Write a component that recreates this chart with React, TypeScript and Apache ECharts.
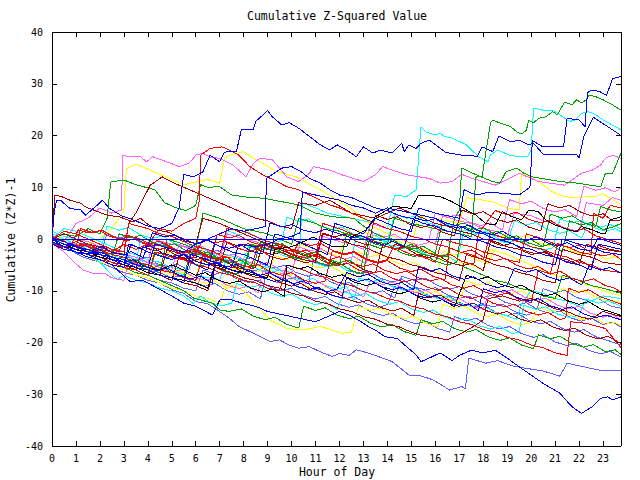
import React, { useEffect, useRef } from "react";
import * as echarts from "echarts";

const BLUE = "#0000ff";
const LBLUE = "#6060ff";
const RED = "#ff0000";
const DRED = "#a80000";
const GREEN = "#00a000";
const CYAN = "#00ffff";
const MAGENTA = "#ff60ff";
const YELLOW = "#ffff00";
const BLACK = "#000000";

const hourLabels = ["0","1","2","3","4","5","6","7","8","9","10","11","12","13","14","15","16","17","18","19","20","21","22","23"];

const lineA = [[0,0],[0.1,5.6],[0.2,7.5],[0.35,7.5],[0.75,5.9],[1.2,5.6],[1.4,4.6],[1.9,6.6],[2.1,7.5],[2.4,5.9],[2.9,4.5],[3.5,3.5],[4,2.5],[4.5,2],[5,3],[5.3,6],[5.5,12.5],[5.9,12],[6.3,13],[6.6,16.2],[7,14.9],[7.2,16.8],[7.7,16.9],[7.9,21.1],[8.4,21.1],[8.5,22.7],[9,24.8],[9.2,23.6],[9.6,22],[9.9,22.5],[10.3,21.4],[11.2,18.2],[11.6,17.2],[11.9,18.2],[12.3,17.2],[12.7,15.9],[13,17.8],[13.4,16.6],[13.7,17.2],[14.2,16.6],[14.6,18.5],[14.7,16.9],[14.9,18.2],[15.2,17.5],[15.4,18.5],[15.75,19.1],[16.45,16.7],[17.1,16.2],[17.75,16],[17.95,17.8],[18.4,16.9],[18.65,19.9],[19.15,18.8],[19.5,19.1],[19.9,18.2],[20.1,18.5],[20.5,16.4],[21.9,16.4],[22,15.6],[22.2,19.8],[22.6,23.5],[23.1,22],[23.75,20]];
const lineB = [[0,0],[0.5,-1.5],[1,-2.5],[1.5,-3],[2,-2],[2.5,-4],[3,-5],[3.3,-1],[4,-2.5],[5,-4],[5.5,-3],[6,-5],[6.5,-6],[6.8,-1],[7.5,-2.5],[8,-3],[8.5,-4],[9,-5],[9.3,1],[10,0],[10.5,-1],[11,-2],[11.5,-3],[11.8,3],[12.5,2],[13,1],[13.5,4],[14,3],[14.5,2],[15,1.5],[15.3,6],[16,5],[16.5,4.5],[17,4],[17.2,9.5],[17.7,8.5],[18.2,9],[19,8.8],[19.5,8.5],[19.95,10],[20.05,19],[20.5,17.8],[21.35,17.8],[21.5,23.3],[22,23],[22.25,21.7],[22.35,28.2],[22.5,28.8],[22.85,28.5],[23.15,27.8],[23.4,31],[23.75,31.4]];
const greenTop = [[0,0],[0.5,-1],[1,-2],[1.5,-1],[2,-3],[2.5,-4],[3,-3.5],[3.5,-5],[4,-6],[4.5,-5],[5,-6.5],[5.5,-7.5],[5.8,-2],[6.5,-3],[7,-4],[7.5,-5],[8,-5.5],[8.3,-1],[9,-2],[9.5,-2.5],[10,-3.5],[10.5,-4],[11,-3],[11.5,-4.5],[12,-5],[12.3,1],[13,0.5],[13.5,-0.5],[14,-1],[14.3,4],[15,3],[15.5,2.5],[16,2],[16.5,1.5],[17,1],[17.5,0.5],[17.7,12],[17.95,12],[18.3,22.4],[18.4,23],[18.7,22.4],[19.15,21.7],[19.4,20.7],[19.6,20.3],[19.8,21],[19.9,23],[20.1,22.4],[20.3,23.3],[20.6,23.6],[20.9,24.6],[21.1,24],[21.2,24.9],[21.4,26.5],[21.7,25.9],[21.9,26.9],[22.1,26.3],[22.3,26.9],[22.4,27.8],[22.7,27.5],[23,26.9],[23.4,25.9],[23.75,24.9]];
const greenHigh = [[0,0],[0.5,-0.5],[1,-1.5],[1.5,-2.5],[2,-2],[2.5,-3.5],[3,-4.5],[3.5,-4],[4,-5.5],[4.5,-6.5],[4.8,0],[5.5,-1],[6,-2],[6.3,5],[7,4],[7.5,3],[8,2],[8.5,1.5],[9,1],[9.5,0],[10,-1],[10.3,4],[11,3],[11.5,2],[12,1.5],[12.5,0.5],[13,0],[13.5,-1],[14,-1.5],[14.5,-2],[15,-1],[15.5,-2.5],[16,-3],[16.5,-3.5],[16.8,4],[17,5.5],[17.1,13.7],[17.9,12],[18.4,11.1],[18.7,10.8],[18.95,13],[19.4,13.7],[19.7,12.7],[20.05,12],[21.2,11.1],[21.9,10.8],[22.9,10.1],[23.1,12.7],[23.4,12.7],[23.75,16.6]];
const greenEarly = [[0,0],[0.5,1],[1,0.5],[1.5,2],[2,1],[2.3,4],[2.45,11],[3,11.4],[3.5,10.5],[4.3,9.5],[4.7,7],[5.2,6],[5.6,5.5],[6,6.5],[6.2,10.5],[6.5,10],[7,10.1],[7.5,8.5],[8.3,8],[8.8,7.9],[9.6,7.2],[10.3,6.6],[11,5],[11.7,4.3],[12.6,4],[13,2.5],[13.5,1],[14,0],[14.5,-1],[15,-2],[15.5,-3],[16,-3.5],[16.5,-4.5],[17,-5],[17.5,-6],[18,-7],[18.5,-8],[19,-8.5],[19.5,-9.5],[20,-10],[20.5,-11],[21,-11.5],[21.3,-7],[22,-8],[22.5,-9],[23,-9.5],[23.75,-10.5]];
const cyanTop = [[0,0],[0.5,2],[1,1.5],[1.5,0.5],[2,-0.5],[2.5,-1.5],[3,-2.5],[3.5,-3],[4,-4],[4.5,-4.5],[5,-5.5],[5.5,-6],[6,-7],[6.5,-7.5],[7,-8],[7.3,-3],[8,-4],[8.5,-5],[9,-5.5],[9.5,-6],[10,-6.5],[10.35,-1],[10.45,7],[11,6],[11.5,5],[12,4.5],[12.5,4],[13,3.5],[13.5,3],[14,2],[14.3,8.5],[14.8,8.2],[15.2,9.5],[15.4,21.6],[15.6,20.7],[15.96,20.1],[16.2,20.4],[16.4,19.8],[16.7,19.5],[17.3,18.2],[17.8,15.9],[18.2,14.9],[18.3,16.2],[18.6,17.2],[19.1,16.2],[19.5,15.9],[19.85,15.9],[20,17.2],[20.1,25.3],[20.5,24.9],[20.9,24.9],[21.2,24],[21.6,22.7],[21.85,23],[22.1,24.3],[22.4,24.6],[22.7,24],[23,23],[23.4,22],[23.75,21.1]];
const magentaTop = [[0,0],[0.5,-0.5],[1,3],[1.5,4],[2,6],[2.5,5],[2.9,5.6],[2.95,16.2],[3.2,15.9],[3.7,15.9],[3.95,14.9],[4.2,15.9],[4.8,14.9],[5.3,14],[5.7,14.6],[5.9,15.6],[6,16.2],[6.3,16.6],[6.6,15.8],[7,15.6],[7.55,14.3],[8.1,12],[8.4,14.6],[8.67,15.6],[9.2,15.3],[9.8,12],[10.3,11.1],[10.75,12.7],[10.9,14],[11.6,13.3],[12.1,12.4],[13,11.1],[13.5,12.4],[13.8,14],[14.2,13.3],[14.8,12.4],[15.75,11.7],[16.2,10.8],[16.7,11.1],[17.1,12.5],[17.55,11.7],[18.5,10.4],[19.2,12],[19.5,12.7],[20.3,11.1],[21.4,10.4],[22.1,12.7],[22.55,13.3],[22.9,14.3],[23.1,15.6],[23.4,16.2],[23.75,15.6]];
const yellowHigh = [[0,0],[0.5,-1],[1,-2],[1.5,-1],[2,0],[2.5,2],[3,5.5],[3.1,13.5],[3.5,14.5],[4,13.5],[4.5,12.5],[5,11.5],[5.5,10.5],[6,11],[6.5,11.5],[7,10.8],[7.2,15.6],[7.4,16.2],[8,16.9],[8.4,15.6],[9.4,13],[10.2,12],[11.2,9.5],[12.4,6.2],[13.4,2.4],[14,1],[14.5,0],[15,-1],[15.5,-2],[16,-3],[16.5,-3.5],[17,-4.5],[17.5,-5],[18,-6],[18.3,-2],[19,-3],[19.5,-4],[20,-5],[20.5,-6],[21,-7],[21.5,-7.5],[22,-8.5],[22.5,-9],[23,-10],[23.75,-11]];
const yellowRight = [[0,0],[0.5,0.5],[1,-0.5],[1.5,-1.5],[2,-2.5],[2.5,-2],[3,-3],[3.5,-4],[4,-4.5],[4.5,-5.5],[5,-6],[5.5,-6.5],[6,-7.5],[6.3,-2],[7,-3],[7.5,-3.5],[8,-4.5],[8.5,-5],[9,-6],[9.5,-6.5],[10,-7],[10.3,-1],[11,-2],[11.5,-2.5],[12,-3.5],[12.3,2],[13,1.5],[13.5,0.5],[14,0],[14.5,-0.5],[15,-1.5],[15.3,4.5],[16,4],[16.5,3.5],[17,3],[17.3,8],[18,7.5],[18.5,7],[19,6],[19.5,5.6],[19.6,12.7],[19.8,12.4],[20.2,11.4],[20.6,10.1],[21,8.8],[21.4,8.2],[21.85,7.9],[22.3,8.2],[22.7,8.2],[22.95,8.8],[23.3,7.9],[23.75,6.6]];
const redRight = [[0,0],[0.5,1.5],[1,1],[1.5,0],[2,-1],[2.5,-2],[3,-2.5],[3.2,3],[4,2],[4.5,1],[5,0.5],[5.5,-0.5],[6,-1.5],[6.5,-2],[7,-3],[7.3,2],[8,1.5],[8.5,0.5],[9,-0.5],[9.5,-1],[10,-2],[10.5,-2.5],[11,-3.5],[11.3,3],[12,2],[12.5,1],[13,0.5],[13.5,-0.5],[14,-1.5],[14.5,-2],[15,-3],[15.5,-3.5],[16,-4.5],[16.3,0],[17,-1],[17.5,-1.5],[18,-2.5],[18.5,-3],[19,-4],[19.5,-4.5],[19.8,1],[20.5,0],[21,-1],[21.5,-1.5],[22,-2.5],[22.5,-3],[22.6,5],[23,4],[23.3,6.5],[23.75,6]];
const blueLowLight = [[0,0],[0.3,-1],[0.9,-2.5],[1.3,-3.5],[2,-4.5],[2.5,-5.5],[3,-6.5],[3.5,-7],[4,-8],[4.5,-8.5],[5.05,-9.9],[5.5,-10.5],[6,-12.1],[6.5,-12.5],[6.9,-13.7],[7.4,-15.3],[7.8,-16.9],[8.4,-18.2],[9.1,-19.8],[9.5,-19.5],[9.9,-20.5],[10.3,-21.1],[10.75,-20.8],[11.2,-21.8],[11.7,-22.7],[12,-22.1],[12.4,-22.5],[12.7,-21.4],[13.25,-22.1],[14.2,-23.7],[14.9,-26.3],[15.3,-26.3],[15.9,-27.2],[16.6,-29.2],[17.1,-28.5],[17.25,-29],[17.4,-23],[18.1,-24],[18.6,-23.5],[19.2,-24.5],[19.8,-25],[20.5,-25.5],[21.2,-26.5],[21.5,-24],[22,-24.5],[22.5,-25],[23,-25.5],[23.75,-25.5]];
const blueBottom = [[0,0],[0.5,-1.5],[1,-2.5],[1.5,-3],[2,-4],[2.5,-5],[3.25,-8.2],[3.8,-8],[4.4,-9.5],[5,-11],[5.5,-12.4],[6,-13],[6.7,-14.7],[7,-11.8],[7.4,-11.6],[8,-12.5],[8.5,-13],[9,-14],[9.5,-14.5],[10,-15],[10.5,-15.5],[11,-16],[11.5,-15],[12,-14],[12.4,-14.7],[12.8,-15.7],[13.2,-16.9],[13.5,-17.6],[13.9,-18.9],[14.4,-19.2],[14.8,-20.8],[15.2,-22.4],[15.4,-23.7],[15.75,-23],[16.2,-22],[16.7,-23.5],[17,-22.5],[17.5,-21.5],[18,-22],[18.5,-21.5],[19,-23],[19.5,-24.7],[20.5,-27.9],[21.2,-29.8],[21.7,-32.4],[22.1,-33.7],[22.55,-32.4],[22.9,-30.8],[23.2,-30.5],[23.4,-31.1],[23.75,-30.5]];
const zeroLine = [[0,0],[23.75,0]];
const blackMid = [[0,0],[0.5,-1],[1,-2],[1.5,-2.5],[2,-3.5],[2.5,-4],[3,-5],[3.5,-5.5],[4,-6.5],[4.5,-7],[5,-7.5],[5.5,-8],[6,-8.5],[6.5,-9.5],[6.8,-5],[7.5,-6],[8,-6.5],[8.5,-7],[9,-7.5],[9.3,-2],[10,-1.5],[10.5,-0.5],[10.9,0.4],[11.7,-1.5],[12.3,-1.5],[12.5,0.4],[13.1,1.7],[13.5,4.3],[14.2,6.2],[14.5,6.2],[15,5.9],[15.3,8.5],[15.6,8.5],[16.2,8.2],[16.7,7.2],[17.3,5.6],[17.7,4.6],[18.1,3],[18.5,2.7],[18.8,5.3],[19.2,4.3],[19.6,3.7],[19.9,5.6],[20.3,5.3],[20.6,3.7],[21,2.7],[21.6,1.7],[21.9,1.4],[22.1,2.4],[22.6,1.7],[22.9,1.1],[23.1,1.1],[23.3,3.7],[23.75,4.3]];
const blackLow = [[0,0],[0.5,-1.5],[1,-2.5],[1.5,-2.8],[2,-3],[2.5,-3.5],[3,-4],[3.5,-5],[4,-5.5],[4.5,-6],[5,-5],[5.5,-6],[6,-7],[6.4,-6.5],[6.9,-7.9],[7.4,-8.6],[7.8,-8.1],[8.3,-9.5],[8.8,-10.2],[9.2,-9.7],[9.7,-11.1],[9.8,-5],[10.3,-5.8],[10.7,-5.3],[11.2,-6.7],[11.7,-7.4],[12.1,-6.9],[12.6,-8.3],[13.1,-9],[13.5,-8.5],[14,-9.9],[14.5,-10.6],[14.9,-10.1],[15.4,-11.5],[15.9,-12.2],[16.3,-11.7],[16.8,-13.1],[17.3,-7],[17.8,-7.8],[18.2,-7.3],[18.7,-8.7],[19.2,-9.4],[19.6,-8.9],[20.1,-10.3],[20.6,-11],[21,-10.5],[21.5,-11.9],[22,-12.6],[22.4,-12.1],[22.9,-13.5],[23.4,-14.2],[23.75,-14.8]];
const dredSpike = [[0,0],[0.12,8.5],[0.4,8.2],[0.75,7.5],[1.2,6.9],[1.4,6.2],[1.9,5.3],[2.3,4.6],[2.8,4.3],[3.4,3.3],[3.7,4],[3.95,3],[4.4,1.7],[4.8,1.4],[5.5,0],[6,-1],[6.3,4],[7,3],[7.5,2],[8,1],[8.5,0],[9,-1],[9.5,-2],[10,-3],[10.5,-4],[11,-4.5],[11.3,1],[12,0],[12.5,-1],[13,-1.5],[13.5,-2.5],[14,-3.5],[14.5,-4],[15,-5],[15.5,-5.5],[16,-6.5],[16.5,-7],[17,-8],[17.3,-3],[18,-4],[18.5,-5],[19,-5.5],[19.5,-6.5],[20,-7],[20.5,-8],[21,-8.5],[21.3,-2],[22,-3],[22.5,-3.5],[23,-4.5],[23.75,-5]];
const blueMid1 = [[0,-0.6],[0.4,-1.2],[0.8,-0.9],[1.2,-1.9],[1.7,-2.2],[2.1,-1.4],[2.5,-2.6],[3,-3.1],[3.3,-2.4],[3.8,-3.6],[4.2,1.2],[4.7,0.4],[5.1,0.8],[5.6,-0.5],[6.1,-0.9],[6.5,-0.2],[7,-1.4],[7.4,-1.8],[7.9,-1.1],[8.3,-2.4],[8.8,-2.9],[9.1,3.1],[9.6,2.3],[10,2.8],[10.5,1.7],[11,1.2],[11.4,1.9],[12,1],[12.5,0.2],[12.9,0.7],[13.4,-0.6],[13.9,-1.2],[14.2,-0.4],[14.7,-1.5],[15.1,4.1],[15.6,3.5],[16,3.9],[16.5,2.6],[17,2.1],[17.4,2.7],[17.9,1.4],[18.4,0.8],[18.8,1.5],[19.3,0.2],[19.8,-0.3],[20.2,0.4],[20.7,-0.8],[21.1,-1.4],[21.5,-0.7],[22,-1.9],[22.5,-2.3],[22.8,0.2],[23.3,-0.6],[23.75,-1.2]];
const lblueMid1 = [[0,0.4],[0.4,-0.3],[0.9,-1.2],[1.3,-0.8],[1.8,-2],[2.2,-2.7],[2.6,-2.1],[3.1,-3.4],[3.5,-4],[4,-3.5],[4.4,-4.8],[4.9,-5.5],[5.2,-4.8],[5.7,-6],[6,-1.9],[6.5,-2.7],[6.9,-2.2],[7.4,-3.5],[7.9,-4.1],[8.3,-3.6],[8.8,-4.9],[9.3,-5.6],[9.7,-5.1],[10.2,-6.5],[10.7,-7.2],[11.1,-6.7],[11.6,-8.2],[12,-9],[12.4,-8.4],[12.9,-9.8],[13.4,-10.5],[13.8,-10],[14.3,-11.4],[14.6,-7.2],[15.1,-8],[15.6,-7.6],[16.1,-9],[16.6,-9.7],[17,-9.2],[17.5,-10.6],[18,-11.3],[18.4,-10.8],[18.9,-12.2],[19.4,-12.9],[19.8,-12.3],[20.3,-13.7],[20.8,-14.4],[21.2,-13.9],[21.7,-15.3],[22.1,-15.9],[22.5,-15.3],[23,-16.5],[23.4,-16.1],[23.75,-17]];
const redMid1 = [[0,-0.9],[0.4,-1.6],[0.8,-1.2],[1.1,1.8],[1.5,1.2],[2,1.6],[2.4,0.5],[2.9,0],[3.3,0.6],[3.8,-0.7],[4.3,-1.3],[4.7,-0.8],[5.2,-2.1],[5.7,-2.7],[6.1,-2.2],[6.6,-3.5],[6.9,0.9],[7.4,0.2],[7.8,0.7],[8.3,-0.6],[8.8,-1.2],[9.2,-0.7],[9.7,-2],[10.2,-2.6],[10.6,-2.1],[11.1,-3.4],[11.6,-4],[12,-3.4],[12.5,-4.7],[13,-5.3],[13.4,-4.8],[13.9,-6.1],[14.4,-6.7],[14.8,-6.2],[15.3,-7.5],[15.8,-8.1],[16.2,-7.6],[16.7,-8.9],[17.2,-9.5],[17.6,-9],[18.1,-10.3],[18.6,-10.9],[19,-10.4],[19.5,-11.7],[20,-12.3],[20.3,-6],[20.8,-6.8],[21.2,-6.2],[21.7,-7.6],[22.2,-8.2],[22.6,-7.7],[23.1,-9],[23.5,-9.5],[23.75,-10.4]];
const redJump = [[0,0.5],[0.4,-0.2],[0.9,-1.4],[1.3,-1],[1.8,-2.3],[2.3,-2.9],[2.8,-2.4],[3.1,0.8],[3.6,0.1],[4.1,-0.9],[4.5,-0.4],[5,-1.8],[5.5,-2.5],[5.9,-2],[6.4,-3.4],[6.9,-4],[7.3,-3.5],[7.8,-4.9],[8.3,-5.6],[8.6,-1.2],[9.1,-2],[9.5,-1.5],[10,-2.9],[10.5,-3.6],[10.9,-3.1],[11.4,-4.5],[11.9,-5.2],[12.3,-4.6],[12.8,-6],[13.3,-6.7],[13.7,-6.2],[14.2,-7.6],[14.7,-8.3],[15.1,-7.8],[15.6,-9.2],[16.1,-9.9],[16.5,-9.4],[17,-10.8],[17.5,-11.5],[17.9,-11],[18.4,-12.4],[18.9,-13.1],[19.3,-12.6],[19.8,-14],[20.3,-14.7],[20.7,-14.2],[21.2,-15.6],[21.45,-15.2],[21.55,-9.5],[22,-10.3],[22.4,-9.8],[22.9,-11.2],[23.3,-11.8],[23.75,-12.6]];
const yellowLow = [[0,-0.5],[0.5,-1.5],[1,-2.5],[1.5,-3.5],[2,-4.5],[2.5,-5],[3,-6],[3.5,-7],[4,-7.5],[4.5,-8.5],[5,-9.5],[5.5,-10],[6,-11],[6.5,-11.5],[7,-12.5],[7.3,-8.5],[8,-10],[8.5,-12.5],[9.1,-15.7],[9.8,-17.3],[10.5,-17.6],[11.2,-16.9],[11.7,-17.6],[12.1,-18.2],[12.5,-18],[12.8,-13],[13.3,-13.8],[13.7,-13.3],[14.2,-14.7],[14.7,-15.4],[15.1,-14.9],[15.6,-16.3],[16.1,-17],[16.3,-12.6],[16.8,-13.4],[17.2,-12.9],[17.7,-14.3],[18.2,-15],[18.6,-14.5],[19.1,-15.9],[19.6,-16.6],[20,-16.1],[20.3,-13.2],[20.8,-14],[21.2,-13.5],[21.7,-14.9],[22.2,-15.6],[22.6,-15.1],[23.1,-16.5],[23.5,-16.1],[23.75,-16.8]];
const magentaLow = [[0,-0.8],[0.5,-2.5],[0.9,-4.4],[1.3,-6],[1.7,-6.6],[2.2,-6.6],[2.5,-7.5],[3,-8],[3.2,-4.2],[3.6,-4.9],[4.1,-4.5],[4.6,-5.8],[5,-6.4],[5.4,-5.9],[5.9,-7.3],[6.4,-8],[6.8,-7.5],[7.3,-8.9],[7.8,-9.6],[8.2,-9.1],[8.6,-10.4],[8.8,-6.2],[9.3,-7],[9.7,-6.6],[10.2,-8],[10.7,-8.7],[11.1,-8.2],[11.6,-9.6],[12.1,-10.3],[12.5,-9.8],[13,-11.2],[13.3,-8],[13.8,-8.8],[14.2,-8.3],[14.7,-9.7],[15.2,-10.4],[15.6,-9.9],[16.1,-11.3],[16.6,-12],[17,-11.5],[17.5,-12.9],[18,-13.6],[18.3,-9.5],[18.8,-10.3],[19.2,-9.8],[19.7,-11.2],[20.2,-11.9],[20.6,-11.4],[21.1,-12.8],[21.6,-13.5],[22,-13],[22.5,-14.4],[23,-15.1],[23.4,-14.6],[23.75,-15.6]];
const cyanLow = [[0,0.3],[0.5,-1],[1,-2],[1.5,-3],[2,-4.5],[2.7,-7.9],[3,-7],[3.5,-8],[4,-8.5],[4.5,-9.5],[5,-10],[5.5,-11],[5.9,-12.5],[6.2,-11],[6.6,-12.3],[7.1,-12.9],[7.5,-12.4],[7.7,-8.6],[8.2,-9.4],[8.6,-9],[9.1,-10.4],[9.6,-11.1],[10,-10.6],[10.5,-12],[11,-12.7],[11.4,-12.2],[11.9,-13.6],[12.2,-10.2],[12.7,-11],[13.1,-10.5],[13.6,-11.9],[14.1,-12.6],[14.5,-12.1],[15,-13.5],[15.5,-14.2],[15.9,-13.7],[16.4,-15.1],[16.9,-15.8],[17.3,-15.3],[17.8,-16.7],[18.3,-17.4],[18.7,-16.9],[19.2,-18.3],[19.5,-18],[19.7,-12.8],[20.2,-13.6],[20.6,-13.1],[21.1,-14.5],[21.6,-15.2],[22,-14.7],[22.3,-11.6],[22.8,-12.4],[23.2,-11.9],[23.75,-13]];
const cyanMid = [[0,1],[0.5,0],[1,-1],[1.5,-1.5],[2,-2.5],[2.5,-3],[3,-4],[3.5,-4.5],[3.7,-0.2],[4.2,-1],[4.6,-0.6],[5.1,-2],[5.6,-2.7],[6,-2.2],[6.5,-3.6],[7,-4.3],[7.4,-3.8],[7.9,-5.2],[8.2,-1.4],[8.7,-2.2],[9.1,-1.7],[9.6,-3.1],[10.1,-3.8],[10.5,-3.3],[11,-4.7],[11.5,-5.4],[11.9,-4.9],[12.4,-6.3],[12.7,0.5],[13.2,-0.3],[13.6,0.2],[14.1,-1.2],[14.6,-1.9],[15,-1.4],[15.5,-2.8],[16,-3.5],[16.4,-3],[16.9,-4.4],[17.2,1.8],[17.7,1],[18.1,1.5],[18.6,0.1],[19.1,-0.6],[19.5,-0.1],[20,-1.5],[20.5,-2.2],[20.9,-1.7],[21.2,3.9],[21.7,3.1],[22.1,3.6],[22.6,2.2],[23.1,1.5],[23.5,2],[23.75,1.4]];
const dredLow = [[0,0],[0.5,-1],[1,-2],[1.5,-2.5],[2,-3.5],[2.5,-4],[3,-5],[3.5,-5.5],[4,-6.5],[4.5,-7],[5,-8],[5.3,-3.5],[5.8,-4.3],[6.2,-3.8],[6.7,-5.2],[7.2,-5.9],[7.6,-5.4],[8.1,-6.8],[8.6,-7.5],[9,-7],[9.5,-8.4],[10,-9.1],[10.4,-8.6],[10.9,-10],[11.4,-10.7],[11.8,-10.2],[12.3,-11.6],[12.8,-12.3],[13.2,-11.8],[13.7,-13.2],[14.2,-13.9],[14.6,-13.4],[15.1,-14.8],[15.3,-10.5],[15.8,-11.3],[16.2,-10.8],[16.7,-12.2],[17.2,-12.9],[17.6,-12.4],[18.1,-13.8],[18.6,-14.5],[19,-14],[19.5,-15.4],[20,-16.1],[20.4,-15.6],[20.9,-17],[21.4,-17.7],[21.8,-17.2],[22.3,-18.6],[22.8,-19.3],[23.2,-18.8],[23.75,-20.2]];
const redLow = [[0,-0.5],[0.5,-1.5],[1,-2.5],[1.5,-3],[2,-4],[2.5,-4.5],[3,-5.5],[3.5,-6],[4,-7],[4.3,-2.5],[5,-3.5],[5.5,-4],[6,-5],[6.5,-5.5],[7,-6.5],[7.5,-7],[8,-8],[8.5,-8.5],[9,-9.5],[9.5,-10],[9.8,-5],[10.5,-6],[11,-7],[11.5,-7.5],[12,-8.5],[12.5,-9],[13,-10],[13.5,-10.5],[14,-11.5],[14.5,-12],[15,-13],[15.5,-13.5],[16,-14.5],[16.5,-15],[17,-16],[17.5,-16.5],[18,-17.5],[18.5,-18],[19,-19],[19.5,-19.5],[20,-20.5],[20.5,-21],[21,-22],[21.5,-22.5],[21.65,-16],[22.3,-16.3],[23.1,-17.3],[23.75,-21]];
const dredJump = [[0,0.5],[0.5,-0.5],[1,-1.5],[1.5,-2.5],[2,-3],[2.5,-4],[3,-4.5],[3.5,-5.5],[4,-6],[4.5,-7],[5,-7.5],[5.5,-8.5],[6,-9],[6.5,-10],[6.8,-5.5],[7.5,-6.5],[8,-7.5],[8.5,-8],[9,-9],[9.5,-9.5],[10,-10.5],[10.5,-11],[11,-12],[11.5,-12.5],[12,-13.5],[12.5,-14],[13,-15],[13.5,-15.5],[14,-16.5],[14.5,-17],[15,-18],[15.3,-18.5],[16,-19],[16.5,-19.5],[17.1,-18.2],[17.7,-16.6],[18,-15.6],[18.2,-11.5],[18.8,-11],[19.5,-12],[20,-11.5],[20.5,-12.5],[21,-13.5],[21.5,-14],[22,-15],[22.5,-15.5],[23,-14],[23.75,-15]];
const redHigh = [[0,0.5],[0.5,-0.5],[1,-1.5],[1.5,-1],[2,-2],[2.5,-2.5],[3,-1],[3.5,-2],[4,-1],[4.5,2],[5,1.5],[5.5,3],[6,4],[6.15,7.5],[6.2,16.2],[6.6,17.5],[7.1,17.8],[7.4,17.2],[7.8,16.2],[8.25,14],[8.8,12.4],[9.4,11.1],[9.8,10.1],[10.3,9.5],[11.2,7.5],[11.6,6.6],[12,6],[12.5,5],[13,4],[13.5,3],[14,2],[14.5,1.5],[15,0.5],[15.5,0],[16,-1],[16.5,-1.5],[17,-2.5],[17.5,-3],[18,-4],[18.3,1],[19,0],[19.5,-0.5],[20,-1.5],[20.5,-2],[21,-3],[21.5,-3.5],[22,-4.5],[22.5,-5],[23,-6],[23.75,-6.5]];
const dredHigh = [[0,0],[0.5,1],[1,0],[1.5,-1],[2,-1.5],[2.5,-2.5],[3,-3],[3.2,3],[3.5,5],[4.1,10.4],[4.6,12],[5,11],[5.5,10],[6,9],[6.5,8],[7,7],[7.5,6],[8,5],[8.5,4],[9,3.5],[9.5,2.5],[10,2],[10.3,7],[11,6.5],[11.6,7.5],[12.5,5],[13,4.5],[13.5,4],[14,5],[14.5,6],[15,5],[15.5,4],[16,3],[16.5,2.5],[17,1.5],[17.5,1],[18,0],[18.5,-0.5],[19,-1.5],[19.5,-2],[20,-3],[20.5,-2.5],[21,-3.5],[21.5,-4],[22,-5],[22.3,-1],[23,-2],[23.75,-2.5]];
const blueUp1 = [[0,-0.5],[0.5,-1.5],[1,-2],[1.5,-3],[2,-2.5],[2.5,-3.5],[3,-4],[3.5,-5],[4,-5.5],[4.3,-1],[5,-2],[5.5,-2.5],[6,-1],[6.5,0],[7,1],[7.5,2],[8,1.5],[8.5,2],[8.9,2.4],[8.95,11.7],[9.6,13.7],[10,14],[10.4,13],[10.75,11.7],[11.2,10.8],[11.6,9.5],[12,8.5],[12.5,8],[13,7],[13.5,6],[14,5.5],[14.5,4.5],[15,4],[15.5,3],[16,2.5],[16.5,1.5],[17,1],[17.5,0],[18,-0.5],[18.5,-1.5],[19,-2],[19.5,-3],[20,-3.5],[20.5,-4.5],[21,-5],[21.3,0],[22,-1],[22.5,-1.5],[23,-2.5],[23.75,-3]];
const blueUp2 = [[0,0],[0.5,-1],[1,-1.5],[1.5,-2.5],[2,-3],[2.5,-4],[3,-4.5],[3.5,-5.5],[4,-6],[4.5,-7],[5,-7.5],[5.5,-8.5],[5.8,-3],[6.5,-4],[7,-5],[7.5,-5.5],[7.8,-1],[8.5,-1.5],[9,-1],[9.5,0],[10,0.5],[10.35,1.2],[10.45,9.1],[11,8.5],[11.5,8],[12,7.5],[12.5,6.5],[13,6],[13.5,5],[14,6],[14.5,5.5],[15,5],[15.5,4.5],[16,4],[16.5,3],[17,2.5],[17.5,1.5],[18,1],[18.5,0],[19,-0.5],[19.5,-1.5],[20,-2],[20.5,-3],[21,-3.5],[21.5,-4.5],[22,-5],[22.5,-6],[22.8,-1],[23.3,-1.5],[23.75,-2]];
const greenMid1 = [[0,-0.8],[0.5,-1.5],[1,-2.5],[1.5,-3.5],[2,-4],[2.5,-5],[3,-5.5],[3.5,-6.5],[4,-7],[4.3,-2.8],[4.8,-3.6],[5.2,-3.1],[5.7,-4.5],[6.2,-5.2],[6.6,-4.7],[7.1,-6.1],[7.6,-6.8],[8,-6.3],[8.3,-1.2],[8.8,-2],[9.2,-1.5],[9.7,-2.9],[10.2,-3.6],[10.6,-3.1],[11.1,-4.5],[11.6,-5.2],[12,-4.7],[12.5,-6.1],[13,-6.8],[13.2,-1],[13.7,-1.8],[14.1,-1.3],[14.6,-2.7],[15.1,-3.4],[15.5,-2.9],[16,-4.3],[16.5,-5],[16.9,-4.5],[17.1,2.5],[17.6,1.7],[18,2.2],[18.5,0.8],[19,0.1],[19.4,0.6],[19.9,-0.8],[20.4,-1.5],[20.8,-1],[21.3,-2.4],[21.6,3.5],[22.1,2.7],[22.5,3.2],[23,1.8],[23.4,2.3],[23.75,3]];
const greenLow = [[0,-0.5],[0.5,-1.5],[1,-2],[1.5,-3],[2,-4],[2.5,-4.5],[3,-5.5],[3.5,-6],[4,-7],[4.5,-8],[5,-9],[5.5,-10],[5.9,-11.4],[6.7,-12.4],[7,-13.7],[7.4,-14],[7.9,-13.5],[8.4,-14.9],[8.9,-15.6],[9.3,-15.1],[9.8,-16.5],[10.3,-17.2],[10.5,-13],[11,-13.8],[11.4,-13.3],[11.9,-14.7],[12.4,-15.4],[12.8,-14.9],[13.3,-16.3],[13.8,-17],[14.2,-16.5],[14.7,-17.9],[15.2,-18.6],[15.4,-15.6],[15.9,-16.4],[16.3,-15.9],[16.8,-17.3],[17.3,-18],[17.7,-17.5],[18.2,-18.9],[18.7,-19.6],[19.1,-19.1],[19.6,-20.5],[20.1,-21.2],[20.3,-18.5],[20.8,-19.3],[21.2,-18.8],[21.7,-20.2],[22.2,-20.9],[22.6,-20.4],[23.1,-21.8],[23.5,-21.4],[23.75,-22.3]];
const lblueMid2 = [[0,0],[0.5,-1],[1,-1.5],[1.5,-2.5],[2,-3],[2.3,1],[2.8,0.2],[3.2,0.7],[3.7,-0.7],[4.2,-1.4],[4.6,-0.9],[5.1,-2.3],[5.6,-3],[6,-2.5],[6.5,-3.9],[7,-4.6],[7.4,-4.1],[7.9,-5.5],[8.4,-6.2],[8.8,-5.7],[9.3,-7.1],[9.8,-7.8],[10.2,-7.3],[10.7,-8.7],[10.9,-4.3],[11.4,-5.1],[11.8,-4.6],[12.3,-6],[12.8,-6.7],[13.2,-6.2],[13.7,-7.6],[14.2,-8.3],[14.6,-7.8],[15.1,-9.2],[15.6,-9.9],[16,-9.4],[16.5,-10.8],[17,-11.5],[17.4,-11],[17.9,-12.4],[18.4,-13.1],[18.8,-12.6],[19.3,-14],[19.8,-14.7],[20.2,-14.2],[20.5,-9.6],[21,-10.4],[21.4,-9.9],[21.9,-11.3],[22.4,-12],[22.8,-11.5],[23.3,-12.9],[23.75,-13.4]];
const lblueLow2 = [[0,0.5],[0.5,-0.5],[1,-1.5],[1.5,-2],[2,-3],[2.5,-3.5],[3,-4.5],[3.5,-5],[4,-6],[4.5,-6.5],[5,-7.5],[5.4,-7],[5.9,-8.4],[6.4,-9.1],[6.8,-8.6],[7.3,-10],[7.8,-10.7],[8.2,-10.2],[8.7,-11.6],[8.9,-7.6],[9.4,-8.4],[9.8,-7.9],[10.3,-9.3],[10.8,-10],[11.2,-9.5],[11.7,-10.9],[12.2,-11.6],[12.6,-11.1],[13.1,-12.5],[13.6,-13.2],[14,-12.7],[14.3,-9.2],[14.8,-10],[15.2,-9.5],[15.7,-10.9],[16.2,-11.6],[16.6,-11.1],[17.1,-12.5],[17.6,-13.2],[18,-12.7],[18.5,-14.1],[19,-14.8],[19.4,-14.3],[19.9,-15.7],[20.4,-16.4],[20.8,-15.9],[21.3,-17.3],[21.8,-18],[22.2,-17.5],[22.7,-18.9],[23.2,-19.6],[23.75,-20.5]];
const blueMid2 = [[0,-1],[0.5,-2],[1,-2.5],[1.5,-3.5],[2,-4],[2.5,-5],[3,-5.5],[3.2,-1],[3.7,-1.8],[4.1,-1.3],[4.6,-2.7],[5.1,-3.4],[5.5,-2.9],[6,-4.3],[6.5,-5],[6.9,-4.5],[7.4,-5.9],[7.9,-6.6],[8.3,-6.1],[8.8,-7.5],[9.3,-8.2],[9.7,-7.7],[10.2,-9.1],[10.7,-9.8],[11.1,-9.3],[11.6,-10.7],[12.1,-11.4],[12.3,-7.4],[12.8,-8.2],[13.2,-7.7],[13.7,-9.1],[14.2,-9.8],[14.6,-9.3],[15.1,-10.7],[15.6,-11.4],[16,-10.9],[16.5,-12.3],[17,-13],[17.4,-12.5],[17.8,-13.9],[18,-9.6],[18.5,-10.4],[18.9,-9.9],[19.4,-11.3],[19.9,-12],[20.3,-11.5],[20.8,-12.9],[21.3,-13.6],[21.7,-13.1],[22.2,-14.5],[22.7,-15.2],[23.1,-14.7],[23.75,-15.6]];
const yellowMid1 = [[0,0],[0.5,-1],[1,-1.5],[1.5,-2.5],[2,-3],[2.5,-4],[3,-4.5],[3.5,-5.5],[4,-6],[4.3,-2],[4.8,-2.8],[5.2,-2.3],[5.7,-3.7],[6.2,-4.4],[6.6,-3.9],[7.1,-5.3],[7.6,-6],[8,-5.5],[8.5,-6.9],[9,-7.6],[9.3,-3.2],[9.8,-4],[10.2,-3.5],[10.7,-4.9],[11.2,-5.6],[11.6,-5.1],[12.1,-6.5],[12.6,-7.2],[12.8,-2.6],[13.3,-3.4],[13.7,-2.9],[14.2,-4.3],[14.7,-5],[15.1,-4.5],[15.6,-5.9],[16.1,-6.6],[16.3,-2.3],[16.8,-3.1],[17.2,-2.6],[17.7,-4],[18.2,-4.7],[18.5,-1.8],[18.9,1],[19.4,0.2],[19.8,0.7],[20.3,-0.7],[20.8,-1.4],[21.2,-0.9],[21.7,-2.3],[22.2,-3],[22.6,-2.5],[23.1,-3.9],[23.5,-3.4],[23.75,-4]];
const yellowMid2 = [[0,0.5],[0.5,0],[1,-1],[1.5,-1.5],[2,-2.5],[2.5,-3],[3,-4],[3.5,-4.5],[4,-5.5],[4.5,-6],[5,-7],[5.4,-6.5],[5.9,-7.9],[6.4,-8.6],[6.8,-8.1],[7.3,-9.5],[7.7,-9.2],[7.8,-5.8],[8.3,-6.6],[8.7,-6.1],[9.2,-7.5],[9.7,-8.2],[10.1,-7.7],[10.6,-9.1],[11.1,-9.8],[11.5,-9.3],[12,-10.7],[12.3,-6.6],[12.8,-7.4],[13.2,-6.9],[13.7,-8.3],[14.2,-9],[14.6,-8.5],[15.1,-9.9],[15.6,-10.6],[16,-10.1],[16.5,-11.5],[17,-12.2],[17.3,-8.1],[17.8,-8.9],[18.2,-8.4],[18.7,-9.8],[19.2,-10.5],[19.6,-10],[20.1,-11.4],[20.6,-12.1],[21,-11.6],[21.3,-9.6],[21.8,-10.4],[22.2,-9.9],[22.7,-11.3],[23.2,-12],[23.75,-12.2]];
const magentaMid1 = [[0,0],[0.5,1],[1,0],[1.5,-0.5],[2,-1.5],[2.5,-2],[3,-3],[3.5,-3.5],[4,-4.5],[4.5,-5],[5,-6],[5.3,-1],[5.8,-1.8],[6.2,-1.3],[6.7,-2.7],[7.2,-3.4],[7.6,-2.9],[8.1,-4.3],[8.6,-5],[9,-4.5],[9.5,-5.9],[10,-6.6],[10.3,-1.5],[10.8,-2.3],[11.2,-1.8],[11.7,-3.2],[12.2,-3.9],[12.6,-3.4],[13.1,-4.8],[13.4,1.2],[13.9,0.4],[14.3,0.9],[14.8,-0.5],[15.3,-1.2],[15.7,-0.7],[16,5],[16.5,4.2],[16.9,4.7],[17.4,3.3],[17.9,2.6],[18.3,3.1],[18.8,1.7],[19.1,7.6],[19.6,6.8],[20,7.3],[20.5,5.9],[21,5.2],[21.4,5.7],[21.9,4.3],[22.2,10.2],[22.7,9.4],[23.1,9.9],[23.5,9.1],[23.75,9.9]];
const magentaMid2 = [[0,0.5],[0.5,-0.5],[1,-1],[1.5,-2],[2,-2.5],[2.5,-3.5],[3,-4],[3.5,-5],[4,-5.5],[4.2,0],[5,-1],[5.5,-1.5],[6,-2.5],[6.5,-3],[7,-4],[7.3,1],[8,0],[8.5,-0.5],[9,-1.5],[9.5,-2],[10,-3],[10.5,-3.5],[11,-4.5],[11.3,0.5],[12,-0.5],[12.5,-1],[13,-2],[13.3,3],[14,2],[14.5,1.5],[15,0.5],[15.5,0],[16,-1],[16.3,4.5],[17,3.5],[17.5,3],[18,2],[18.5,1.5],[19,0.5],[19.3,5],[20,4.5],[20.5,3.5],[21,3],[21.5,2],[22,1.5],[22.3,7],[23,6.5],[23.4,8],[23.75,7.5]];
const dredMid1 = [[0,-0.5],[0.5,-1.5],[1,-2],[1.5,-3],[2,-3.5],[2.5,-4.5],[3,-5],[3.5,-6],[3.8,-1.5],[4.3,-2.3],[4.7,-1.8],[5.2,-3.2],[5.7,-3.9],[6.1,-3.4],[6.6,-4.8],[7,-5.2],[7.3,-0.6],[7.8,-1.4],[8.2,-0.9],[8.7,-2.3],[9.2,-3],[9.6,-2.5],[10.1,-3.9],[10.6,-4.6],[11,-4.1],[11.3,1.2],[11.8,0.4],[12.2,0.9],[12.7,-0.5],[13.2,-1.2],[13.5,4.6],[14,3.8],[14.4,4.3],[14.9,2.9],[15.4,2.2],[15.8,2.7],[16.3,1.3],[16.8,0.6],[17.1,5.6],[17.6,4.8],[18,5.3],[18.5,3.9],[19,3.2],[19.4,3.7],[19.9,2.3],[20.4,1.6],[20.7,6.8],[21.2,6],[21.6,6.5],[22.1,5.1],[22.6,4.4],[23,4.9],[23.4,3.5],[23.75,3.7]];
const redMid2 = [[0,-1],[0.5,-1.5],[1,-0.5],[1.5,-1.5],[2,-2],[2.5,-3],[3,-3.5],[3.5,-4.5],[4,-5],[4.5,-6],[5,-6.5],[5.5,-7.5],[6,-8],[6.3,-3],[6.8,-3.8],[7.2,-3.3],[7.7,-4.7],[8.2,-5.4],[8.6,-4.9],[9.1,-6.3],[9.6,-7],[10,-6.5],[10.5,-7.9],[11,-8.6],[11.4,-8.1],[11.7,-2.3],[12.2,-3.1],[12.6,-2.6],[13.1,-4],[13.6,-4.7],[14,-4.2],[14.5,-5.6],[15,-6.3],[15.4,-5.8],[15.9,-7.2],[16.4,-7.9],[16.6,-1.8],[17.1,-2.6],[17.5,-2.1],[18,-3.5],[18.5,-4.2],[18.9,-3.7],[19.4,-5.1],[19.9,-5.8],[20.3,-5.3],[20.8,-6.7],[21.1,-0.9],[21.6,-1.7],[22,-1.2],[22.5,-2.6],[23,-3.3],[23.4,-2.8],[23.75,-4]];
const blueMid3 = [[0,0.2],[0.5,-0.5],[1,-1.5],[1.5,-2],[2,-3],[2.5,-3.5],[3,-4.5],[3.4,-4],[3.9,-5.4],[4.4,-6.1],[4.8,-5.6],[5.3,-7],[5.8,-7.7],[6.2,-7.2],[6.7,-8.6],[6.8,-4.6],[7.3,-5.4],[7.7,-4.9],[8.2,-6.3],[8.7,-7],[9.1,-6.5],[9.6,-7.9],[10.1,-8.6],[10.5,-8.1],[11,-9.5],[11.5,-10.2],[11.9,-9.7],[12.3,-6.5],[12.8,-7.3],[13.2,-6.8],[13.7,-8.2],[14.2,-8.9],[14.6,-8.4],[15.1,-9.8],[15.3,-5.4],[15.8,-6.2],[16.2,-5.7],[16.7,-7.1],[17.2,-7.8],[17.6,-7.3],[18.1,-8.7],[18.6,-9.4],[19,-8.9],[19.3,-5.6],[19.8,-6.4],[20.2,-5.9],[20.7,-7.3],[21.2,-8],[21.6,-7.5],[22.1,-8.9],[22.4,-5.2],[22.9,-6],[23.3,-5.5],[23.75,-6.6]];
const greenMid2 = [[0,0],[0.5,-0.5],[1,-1.5],[1.5,-2],[2,-3],[2.5,-3.5],[2.8,1],[3.3,0.2],[3.7,0.7],[4.2,-0.7],[4.7,-1.4],[5.1,-0.9],[5.6,-2.3],[6.1,-3],[6.5,-2.5],[7,-3.9],[7.5,-4.6],[7.9,-4.1],[8.4,-5.5],[8.7,-0.6],[9.2,-1.4],[9.6,-0.9],[10.1,-2.3],[10.6,-3],[11,-2.5],[11.5,-3.9],[12,-4.6],[12.4,-4.1],[12.9,-5.5],[13.2,0.5],[13.7,-0.3],[14.1,0.2],[14.6,-1.2],[15.1,-1.9],[15.5,-1.4],[16,-2.8],[16.3,3.4],[16.8,2.6],[17.2,3.1],[17.7,1.7],[18.2,1],[18.6,1.5],[19.1,0.1],[19.6,-0.6],[20,-0.1],[20.5,-1.5],[20.8,4.8],[21.3,4],[21.7,4.5],[22.2,3.1],[22.7,2.4],[22.9,6.3],[23.4,5.5],[23.75,5.3]];
const cyanJump = [[0,1.5],[0.5,0.5],[1,0],[1.5,-1],[2,-1.5],[2.5,-2.5],[3,-3],[3.5,-4],[4,-4.5],[4.5,-5.5],[5,-6],[5.5,-7],[5.8,-2.5],[6.3,-3.3],[6.7,-2.8],[7.2,-4.2],[7.7,-4.9],[8.1,-4.4],[8.6,-5.8],[9.1,-6.5],[9.5,-6],[10,-7.4],[10.5,-8.1],[10.9,-7.6],[11.4,-9],[11.9,-9.7],[12.3,-9.2],[12.6,-12],[12.8,-7.5],[13.3,-8.3],[13.7,-7.8],[14.2,-9.2],[14.7,-9.9],[15.1,-9.4],[15.6,-10.8],[16.1,-11.5],[16.5,-11],[17,-12.4],[17.5,-13.1],[17.9,-12.6],[18.4,-14],[18.9,-14.7],[19.4,-15.5],[19.6,-12.5],[20,-10],[20.5,-10.5],[21,-11.5],[21.5,-12],[22,-13],[22.5,-12],[23,-11],[23.75,-11.5]];
const lblueLow3 = [[0,-0.5],[0.5,-1.5],[1,-2.5],[1.5,-3],[2,-4],[2.5,-4.5],[3,-5.5],[3.5,-6.5],[4,-7],[4.5,-8],[5,-8.5],[5.5,-9.5],[6,-10],[6.3,-6],[6.8,-6.8],[7.2,-6.3],[7.7,-7.7],[8.2,-8.4],[8.6,-7.9],[9.1,-9.3],[9.6,-10],[10,-9.5],[10.5,-10.9],[11,-11.6],[11.4,-11.1],[11.9,-12.5],[12.4,-13.2],[12.8,-12.7],[13.3,-14.1],[13.8,-14.8],[14.2,-14.3],[14.7,-15.7],[15.2,-16.4],[15.6,-15.9],[16.1,-17.3],[16.6,-18],[16.8,-15],[17.3,-15.8],[17.7,-15.3],[18.2,-16.7],[18.7,-17.4],[19.1,-16.9],[19.6,-18.3],[20.1,-19],[20.5,-18.5],[21,-19.9],[21.5,-20.6],[21.9,-20.1],[22.4,-21.5],[22.9,-22.2],[23.3,-21.7],[23.75,-22.8]];
const redMid3 = [[0,0],[0.5,-1],[1,-1.5],[1.2,2],[1.7,1.2],[2.1,1.7],[2.6,0.3],[3.1,-0.4],[3.5,0.1],[4,-1.3],[4.5,-2],[4.9,-1.5],[5.4,-2.9],[5.9,-3.6],[6.3,0],[6.8,-0.8],[7.2,-0.3],[7.7,-1.7],[8.2,-2.4],[8.6,-1.9],[9.1,-3.3],[9.6,-4],[10,-3.5],[10.3,-0.5],[10.8,-1.3],[11.2,-0.8],[11.7,-2.2],[12.2,-2.9],[12.6,-2.4],[13.1,-3.8],[13.6,-4.5],[14,-4],[14.3,-1],[14.8,-1.8],[15.2,-1.3],[15.7,-2.7],[16.2,-3.4],[16.6,-2.9],[17.1,-4.3],[17.6,-5],[17.8,1],[18.5,5.5],[19,4.7],[19.4,5.2],[19.9,3.8],[20.4,3.1],[20.8,3.6],[21.3,2.2],[21.8,1.5],[22.2,2],[22.7,0.6],[23.2,-0.1],[23.75,-0.9]];
const dredMid2 = [[0,0],[0.5,-1],[1,-1.5],[1.5,-2.5],[2,-3],[2.5,-4],[3,-4.5],[3.5,-5.5],[4,-6],[4.5,-7],[4.8,-2],[5.3,-2.8],[5.7,-2.3],[6.2,-3.7],[6.7,-4.4],[7.1,-3.9],[7.6,-5.3],[8.1,-6],[8.5,-5.5],[8.8,-1],[9.3,-1.8],[9.7,-1.3],[10.2,-2.7],[10.7,-3.4],[11.1,-2.9],[11.6,-4.3],[12.1,-5],[12.5,-4.5],[13,-5.9],[13.5,-6.6],[13.8,-1.2],[14.3,-2],[14.7,-1.5],[15.2,-2.9],[15.7,-3.6],[16.1,-3.1],[16.6,-4.5],[17.1,-5.2],[17.5,-4.7],[18,-6.1],[18.3,-0.5],[18.8,-1.3],[19.2,-0.8],[19.7,-2.2],[20.2,-2.9],[20.6,-2.4],[21.1,-3.8],[21.6,-4.5],[22,-4],[22.5,-5.4],[22.8,-1.2],[23.3,-2],[23.75,-2.4]];
const cyanUpper = [[0,0.5],[0.5,-0.5],[1,-1],[1.5,-2],[2,-2.5],[2.3,2.5],[2.8,1.7],[3.2,2.2],[3.7,0.8],[4.2,0.1],[4.6,0.6],[5.1,-0.8],[5.6,-1.5],[6,-1],[6.5,-2.4],[7,-3.1],[7.3,1.6],[7.8,0.8],[8.2,1.3],[8.7,-0.1],[9.2,-0.8],[9.6,-0.3],[9.8,4.2],[10.3,3.4],[10.7,3.9],[11.2,2.5],[11.7,1.8],[12.1,2.3],[12.6,0.9],[13.1,0.2],[13.5,0.7],[14,-0.7],[14.3,4.8],[14.8,4],[15.2,4.5],[15.7,3.1],[16.2,2.4],[16.6,2.9],[17.1,1.5],[17.6,0.8],[18,1.3],[18.5,-0.1],[19,-0.8],[19.3,3.5],[19.8,2.7],[20.2,3.2],[20.7,1.8],[21.2,1.1],[21.6,1.6],[22.1,0.2],[22.4,3.1],[22.9,2.3],[23.3,2.8],[23.75,2]];

const seriesList: [string, number[][]][] = [
  [LBLUE, blueLowLight], [LBLUE, lblueMid1], [LBLUE, lblueMid2], [LBLUE, lblueLow2], [LBLUE, lblueLow3],
  [YELLOW, yellowHigh], [YELLOW, yellowRight], [YELLOW, yellowLow], [YELLOW, yellowMid1], [YELLOW, yellowMid2],
  [CYAN, cyanTop], [CYAN, cyanLow], [CYAN, cyanMid], [CYAN, cyanJump], [CYAN, cyanUpper],
  [MAGENTA, magentaTop], [MAGENTA, magentaLow], [MAGENTA, magentaMid1], [MAGENTA, magentaMid2],
  [GREEN, greenTop], [GREEN, greenHigh], [GREEN, greenEarly], [GREEN, greenMid1], [GREEN, greenLow], [GREEN, greenMid2],
  [DRED, dredSpike], [DRED, dredLow], [DRED, dredJump], [DRED, dredHigh], [DRED, dredMid1], [DRED, dredMid2],
  [RED, redRight], [RED, redMid1], [RED, redJump], [RED, redLow], [RED, redHigh], [RED, redMid2], [RED, redMid3],
  [BLACK, blackMid], [BLACK, blackLow],
  [BLUE, zeroLine], [BLUE, blueBottom], [BLUE, blueMid1], [BLUE, blueMid2], [BLUE, blueMid3], [BLUE, blueUp1], [BLUE, blueUp2],
  [BLUE, lineB], [BLUE, lineA],
];

const MONO = "'DejaVu Sans Mono', 'Liberation Mono', monospace";

export default function App() {
  const ref = useRef<HTMLDivElement>(null);
  useEffect(() => {
    if (!ref.current) return;
    const chart = echarts.init(ref.current, undefined, { renderer: "svg" });
    const axisCommon = {
      type: "value" as const,
      axisLine: { show: true, onZero: false, lineStyle: { color: "#000", width: 1 } },
      axisTick: { show: true, inside: true, length: 5, lineStyle: { color: "#000", width: 1 } },
      splitLine: { show: false },
    };
    chart.setOption({
      animation: false,
      backgroundColor: "#ffffff",
      grid: { left: 52, right: 19, top: 32, bottom: 34, containLabel: false },
      xAxis: [
        {
          ...axisCommon, position: "bottom", min: 0, max: 23.75, interval: 1,
          axisLabel: {
            show: true, margin: 7, color: "#000", fontFamily: MONO, fontSize: 10,
            formatter: (v: number) => (Number.isInteger(v) && v <= 23 ? hourLabels[v] : ""),
          },
        },
        { ...axisCommon, position: "top", min: 0, max: 23.75, interval: 1, axisLabel: { show: false } },
      ],
      yAxis: [
        {
          ...axisCommon, position: "left", min: -40, max: 40, interval: 10,
          axisLabel: { show: true, margin: 9, color: "#000", fontFamily: MONO, fontSize: 10 },
        },
        { ...axisCommon, position: "right", min: -40, max: 40, interval: 10, axisLabel: { show: false } },
      ],
      graphic: [
        { type: "text", x: 337, y: 16, style: { text: "Cumulative Z-Squared Value", fill: "#000", font: `11.5px ${MONO}`, textAlign: "center", textVerticalAlign: "middle" } },
        { type: "text", x: 337, y: 472, style: { text: "Hour of Day", fill: "#000", font: `11.5px ${MONO}`, textAlign: "center", textVerticalAlign: "middle" } },
        { type: "text", x: 11, y: 240, rotation: Math.PI / 2, style: { text: "Cumulative (Z*Z)-1", fill: "#000", font: `11.5px ${MONO}`, textAlign: "center", textVerticalAlign: "middle" } },
      ],
      series: seriesList.map(([color, data], i) => ({
        type: "line",
        name: "s" + i,
        data,
        xAxisIndex: 0,
        yAxisIndex: 0,
        showSymbol: false,
        symbol: "none",
        lineStyle: { color, width: 1 },
        itemStyle: { color },
        silent: true,
      })),
    });
    return () => chart.dispose();
  }, []);
  return (
    <>
      <style>{"#zchart svg path{shape-rendering:crispEdges}"}</style>
      <div id="zchart" ref={ref} style={{ position: "fixed", left: 0, top: 0, width: 640, height: 480 }} />
    </>
  );
}
